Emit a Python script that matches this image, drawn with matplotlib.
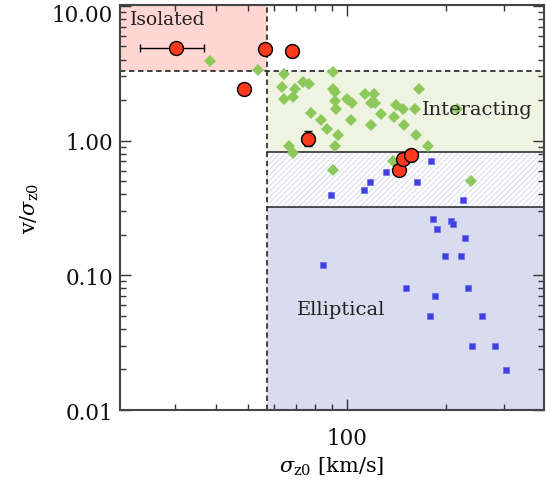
import matplotlib
matplotlib.use("Agg")
import matplotlib.pyplot as plt
from matplotlib.ticker import FixedLocator, LogLocator, NullFormatter, FuncFormatter
from matplotlib.transforms import ScaledTranslation

plt.rcParams["font.family"] = "DejaVu Serif"
plt.rcParams["mathtext.fontset"] = "dejavuserif"
plt.rcParams["hatch.color"] = "#d6d9e8"
plt.rcParams["hatch.linewidth"] = 0.7

# region limits
sig_cut = 57.0
v_iso = 3.27
v_int = 0.83
v_ell = 0.324

# red circles (sigma, v/sigma)
red_sig = [30.1, 56.1, 68.1, 48.4, 76.1, 143.4, 148.2, 156.1]
red_v = [4.9, 4.82, 4.62, 2.43, 1.035, 0.603, 0.734, 0.778]
red_xerr_lo = [6.7, 0, 0, 0, 0, 0, 0, 0]
red_xerr_hi = [6.6, 0, 0, 0, 0, 0, 0, 0]
red_yerr_lo = [0, 0, 0, 0, 0.123, 0, 0, 0]
red_yerr_hi = [0, 0, 0, 0, 0.143, 0, 0, 0]

# green diamonds
grn_sig = [38.3, 53.4, 64.2, 90.3, 63.4, 69.3, 73.5, 76.5, 64.3, 68.5,
           90.3, 91.6, 165.5, 113.2, 120.6, 100.0, 103.1, 91.6, 118.0, 121.4,
           92.4, 140.9, 147.4, 160.6, 215.0, 77.4, 126.6, 139.0, 83.2, 102.4,
           118.0, 149.0, 86.6, 93.5, 161.4, 66.5, 68.5, 91.6, 176.3, 138.0,
           90.3, 237.7]
grn_v = [3.90, 3.33, 3.12, 3.23, 2.52, 2.43, 2.74, 2.62, 2.03, 2.12,
         2.43, 2.30, 2.43, 2.23, 2.23, 2.03, 1.91, 1.96, 1.91, 1.89,
         1.71, 1.83, 1.73, 1.73, 1.73, 1.61, 1.59, 1.51, 1.415, 1.415,
         1.306, 1.306, 1.213, 1.108, 1.108, 0.912, 0.805, 0.912, 0.912, 0.706,
         0.602, 0.501]

# blue squares
blu_sig = [179.7, 131.1, 117.2, 162.5, 112.4, 89.4, 225.2, 181.8, 206.2, 209.1,
           187.7, 227.4, 197.7, 222.1, 84.5, 150.8, 233.2, 184.7, 178.8, 256.2,
           239.3, 281.2, 304.3]
blu_v = [0.702, 0.585, 0.493, 0.493, 0.430, 0.393, 0.365, 0.260, 0.252, 0.242,
         0.222, 0.1905, 0.140, 0.140, 0.120, 0.080, 0.080, 0.0702, 0.0499, 0.0499,
         0.0299, 0.0299, 0.01995]

xmin, xmax = 20.4, 396.0
ymin, ymax = 0.01, 10.16

fig = plt.figure(figsize=(5.47, 4.81), dpi=100)
ax = fig.add_axes([0.2194, 0.1455, 0.7751, 0.842])
ax.set_xscale("log")
ax.set_yscale("log")
ax.set_xlim(xmin, xmax)
ax.set_ylim(ymin, ymax)

# shaded regions
ax.fill_between([xmin, sig_cut], v_iso, ymax, color="#ffd6d2", lw=0, zorder=0)
ax.fill_between([sig_cut, xmax], v_int, v_iso, color="#eff3e2", lw=0, zorder=0)
ax.fill_between([sig_cut, xmax], v_ell, v_int, facecolor="white", edgecolor="#d6d9e8",
                hatch="//////", lw=0, zorder=0)
ax.fill_between([sig_cut, xmax], ymin, v_ell, color="#d9dbee", lw=0, zorder=0)

ax.axvline(sig_cut, color="#333333", ls=(0, (3, 2)), lw=1.3, zorder=1)
ax.axhline(v_iso, color="#333333", ls=(0, (3, 2)), lw=1.3, zorder=1)
ax.plot([sig_cut, xmax], [v_int, v_int], color="#222222", lw=1.1, zorder=1)
ax.plot([sig_cut, xmax], [v_ell, v_ell], color="#222222", lw=1.1, zorder=1)

ax.plot(blu_sig, blu_v, "s", color="#4040e0", ms=4.8, mec="#6a6af0", mew=0.5, zorder=3)
ax.plot(grn_sig, grn_v, "D", color="#8dc95a", ms=6.0, mew=0, zorder=3)
ax.errorbar(red_sig, red_v, xerr=[red_xerr_lo, red_xerr_hi],
            yerr=[red_yerr_lo, red_yerr_hi], fmt="o", color="#ff3a1c",
            mec="black", mew=1.0, ms=10, ecolor="black", elinewidth=1.0,
            capsize=3, zorder=4)

ax.text(21.8, 9.4, "Isolated", fontsize=13.5, va="top", ha="left", color="#222222")
ax.text(169, 1.72, "Interacting", fontsize=14, va="center", ha="left", color="#222222")
ax.text(70.3, 0.0558, "Elliptical", fontsize=14, va="center", ha="left", color="#222222")

ax.xaxis.set_major_locator(FixedLocator([100]))
ax.xaxis.set_major_formatter(FuncFormatter(lambda v, p: "%d" % v))
ax.xaxis.set_minor_locator(LogLocator(base=10, subs=range(2, 10), numticks=20))
ax.xaxis.set_minor_formatter(NullFormatter())
ax.yaxis.set_major_locator(FixedLocator([0.01, 0.1, 1.0, 10.0]))
ax.yaxis.set_major_formatter(FuncFormatter(lambda v, p: "%.2f" % v))
ax.yaxis.set_minor_locator(LogLocator(base=10, subs=range(2, 10), numticks=20))
ax.yaxis.set_minor_formatter(NullFormatter())

ax.tick_params(which="both", direction="in", top=True, right=True, color="#333333",
               labelsize=15.5, labelcolor="#111111")
ax.tick_params(which="major", length=8, width=1.0)
ax.tick_params(which="minor", length=4, width=1.0)
ax.tick_params(axis="x", pad=12)
ax.tick_params(axis="y", pad=5)
for s in ax.spines.values():
    s.set_color("#444444")
    s.set_linewidth(1.5)

ax.set_xlabel(r"$\sigma_{\mathrm{z0}}$ [km/s]", fontsize=15, labelpad=4)
ax.set_ylabel(r"v/$\sigma_{\mathrm{z0}}$", fontsize=15, labelpad=8)

# top label sits a little below its tick so it is not clipped
fig.canvas.draw()
top_lbl = ax.yaxis.get_major_ticks()[-1].label1
top_lbl.set_transform(top_lbl.get_transform()
                      + ScaledTranslation(0, -5 / 72, fig.dpi_scale_trans))

fig.savefig("out.png", dpi=100)
